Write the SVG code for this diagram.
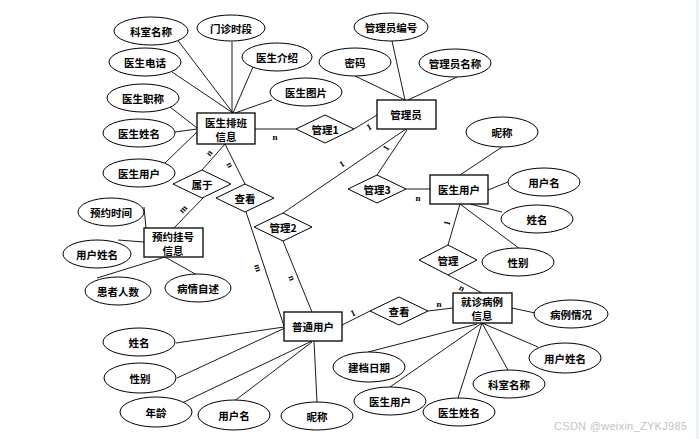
<svg xmlns="http://www.w3.org/2000/svg" width="699" height="439" viewBox="0 0 699 439">
<style>
.e{fill:#fff;stroke:#000;stroke-width:1}
.b{fill:#fff;stroke:#000;stroke-width:1.3}
.d{fill:#fff;stroke:#000;stroke-width:1}
.t{font-family:"Noto Sans CJK SC","Noto Sans",sans-serif;font-size:10.5px;font-weight:bold;text-anchor:middle;dominant-baseline:central;fill:#000}
.c line{stroke:#000;stroke-width:0.9}
.l{font-family:"Liberation Serif",serif;font-size:9px;font-weight:bold;text-anchor:middle;dominant-baseline:central;fill:#000}
.w{font-family:"Liberation Sans",sans-serif;font-size:11px;fill:#c4c4c4}
</style>
<rect width="699" height="439" fill="#fff"/>
<rect x="696" y="0" width="3" height="439" fill="#eef1f3"/>
<g class="c" id="connectors">
<line x1="176" y1="38" x2="233" y2="113"/>
<line x1="232" y1="42" x2="232" y2="113"/>
<line x1="253" y1="67" x2="233" y2="113"/>
<line x1="272" y1="100" x2="235" y2="113"/>
<line x1="172" y1="72" x2="233" y2="113"/>
<line x1="170" y1="107" x2="197" y2="128"/>
<line x1="175" y1="132" x2="197" y2="129"/>
<line x1="165" y1="163" x2="199" y2="130"/>
<line x1="255" y1="129" x2="296" y2="129"/>
<line x1="354" y1="129" x2="377" y2="115"/>
<line x1="225" y1="144" x2="202" y2="170"/>
<line x1="225" y1="144" x2="245" y2="184"/>
<line x1="203" y1="198" x2="174" y2="228"/>
<line x1="144" y1="207" x2="146" y2="228"/>
<line x1="118" y1="240" x2="144" y2="242"/>
<line x1="97" y1="278" x2="165" y2="257"/>
<line x1="165" y1="257" x2="197" y2="275"/>
<line x1="392" y1="41" x2="405" y2="100"/>
<line x1="355" y1="76" x2="405" y2="100"/>
<line x1="457" y1="77" x2="408" y2="100"/>
<line x1="406" y1="129" x2="283" y2="213"/>
<line x1="407" y1="130" x2="377" y2="175"/>
<line x1="406" y1="189" x2="430" y2="189"/>
<line x1="460" y1="175" x2="502" y2="147"/>
<line x1="488" y1="190" x2="508" y2="182"/>
<line x1="470" y1="204" x2="502" y2="212"/>
<line x1="460" y1="204" x2="520" y2="249"/>
<line x1="460" y1="204" x2="448" y2="245"/>
<line x1="448" y1="275" x2="482" y2="293"/>
<line x1="246" y1="212" x2="284" y2="326"/>
<line x1="283" y1="241" x2="312" y2="312"/>
<line x1="342" y1="325" x2="370" y2="311"/>
<line x1="428" y1="311" x2="453" y2="308"/>
<line x1="512" y1="308" x2="535" y2="313"/>
<line x1="482" y1="323" x2="538" y2="347"/>
<line x1="482" y1="323" x2="508" y2="370"/>
<line x1="482" y1="323" x2="458" y2="398"/>
<line x1="482" y1="323" x2="390" y2="387"/>
<line x1="477" y1="324" x2="368" y2="352"/>
<line x1="176" y1="343" x2="284" y2="327"/>
<line x1="177" y1="378" x2="285" y2="328"/>
<line x1="182" y1="403" x2="312" y2="341"/>
<line x1="233" y1="402" x2="312" y2="342"/>
<line x1="317" y1="402" x2="314" y2="341"/>
<text class="l" x="275" y="137">n</text>
<text class="l" x="369" y="127" transform="rotate(-30 369 127)">1</text>
<text class="l" x="209" y="153" transform="rotate(-50 209 153)">n</text>
<text class="l" x="230" y="165" transform="rotate(63 230 165)">n</text>
<text class="l" x="183" y="209" transform="rotate(-45 183 209)">m</text>
<text class="l" x="342" y="164" transform="rotate(-34 342 164)">1</text>
<text class="l" x="386" y="148" transform="rotate(-56 386 148)">1</text>
<text class="l" x="418" y="198">n</text>
<text class="l" x="447" y="223" transform="rotate(-74 447 223)">1</text>
<text class="l" x="462" y="288" transform="rotate(28 462 288)">n</text>
<text class="l" x="258" y="268" transform="rotate(72 258 268)">m</text>
<text class="l" x="292" y="278" transform="rotate(68 292 278)">n</text>
<text class="l" x="353" y="313" transform="rotate(-27 353 313)">1</text>
<text class="l" x="439" y="304">n</text>
</g>
<g id="doctor_schedule"><rect class="b" x="197" y="113" width="58" height="31"/><text class="t" x="226" y="122">医生排班</text><text class="t" x="226" y="136">信息</text></g>
<g id="admin"><rect class="b" x="377" y="100" width="59" height="29"/><text class="t" x="406" y="114">管理员</text></g>
<g id="doctor_user"><rect class="b" x="430" y="175" width="58" height="29"/><text class="t" x="459" y="189">医生用户</text></g>
<g id="appointment"><rect class="b" x="144" y="228" width="59" height="29"/><text class="t" x="173" y="236">预约挂号</text><text class="t" x="173" y="250">信息</text></g>
<g id="case"><rect class="b" x="453" y="293" width="59" height="30"/><text class="t" x="482" y="301">就诊病例</text><text class="t" x="482" y="315">信息</text></g>
<g id="user"><rect class="b" x="284" y="312" width="58" height="29"/><text class="t" x="313" y="326">普通用户</text></g>
<g id="r_manage1"><polygon class="d" points="296,129 325,115 354,129 325,143"/><text class="t" x="325" y="129">管理1</text></g>
<g id="r_belong"><polygon class="d" points="173,184 202,170 231,184 202,198"/><text class="t" x="202" y="184">属于</text></g>
<g id="r_view1"><polygon class="d" points="216,198 245,184 274,198 245,212"/><text class="t" x="245" y="198">查看</text></g>
<g id="r_manage2"><polygon class="d" points="254,227 283,213 312,227 283,241"/><text class="t" x="283" y="227">管理2</text></g>
<g id="r_manage3"><polygon class="d" points="348,189 377,175 406,189 377,203"/><text class="t" x="377" y="189">管理3</text></g>
<g id="r_manage"><polygon class="d" points="419,260 448,245 477,260 448,275"/><text class="t" x="448" y="260">管理</text></g>
<g id="r_view2"><polygon class="d" points="370,311 399,297 428,311 399,325"/><text class="t" x="399" y="311">查看</text></g>
<g id="a1"><ellipse class="e" cx="151" cy="31" rx="37" ry="14"/><text class="t" x="151" y="31">科室名称</text></g>
<g id="a2"><ellipse class="e" cx="231" cy="28" rx="34" ry="13"/><text class="t" x="231" y="28">门诊时段</text></g>
<g id="a3"><ellipse class="e" cx="145" cy="62" rx="36" ry="14"/><text class="t" x="145" y="62">医生电话</text></g>
<g id="a4"><ellipse class="e" cx="277" cy="57" rx="35" ry="14"/><text class="t" x="277" y="57">医生介绍</text></g>
<g id="a5"><ellipse class="e" cx="143" cy="98" rx="36" ry="14"/><text class="t" x="143" y="98">医生职称</text></g>
<g id="a6"><ellipse class="e" cx="306" cy="92" rx="36" ry="14"/><text class="t" x="306" y="92">医生图片</text></g>
<g id="a7"><ellipse class="e" cx="139" cy="133" rx="36" ry="14"/><text class="t" x="139" y="133">医生姓名</text></g>
<g id="a8"><ellipse class="e" cx="139" cy="173" rx="36" ry="14"/><text class="t" x="139" y="173">医生用户</text></g>
<g id="a9"><ellipse class="e" cx="391" cy="27" rx="37" ry="14"/><text class="t" x="391" y="27">管理员编号</text></g>
<g id="a10"><ellipse class="e" cx="355" cy="62" rx="36" ry="14"/><text class="t" x="355" y="62">密码</text></g>
<g id="a11"><ellipse class="e" cx="455" cy="63" rx="36" ry="14"/><text class="t" x="455" y="63">管理员名称</text></g>
<g id="a12"><ellipse class="e" cx="502" cy="132" rx="36" ry="15"/><text class="t" x="502" y="132">昵称</text></g>
<g id="a13"><ellipse class="e" cx="544" cy="182" rx="36" ry="14"/><text class="t" x="544" y="182">用户名</text></g>
<g id="a14"><ellipse class="e" cx="537" cy="219" rx="36" ry="14"/><text class="t" x="537" y="219">姓名</text></g>
<g id="a15"><ellipse class="e" cx="518" cy="262" rx="36" ry="14"/><text class="t" x="518" y="262">性别</text></g>
<g id="a16"><ellipse class="e" cx="111" cy="212" rx="33" ry="14"/><text class="t" x="111" y="212">预约时间</text></g>
<g id="a17"><ellipse class="e" cx="97" cy="254" rx="34" ry="14"/><text class="t" x="97" y="254">用户姓名</text></g>
<g id="a18"><ellipse class="e" cx="118" cy="291" rx="33" ry="14"/><text class="t" x="118" y="291">患者人数</text></g>
<g id="a19"><ellipse class="e" cx="198" cy="288" rx="33" ry="14"/><text class="t" x="198" y="288">病情自述</text></g>
<g id="a20"><ellipse class="e" cx="571" cy="314" rx="37" ry="14"/><text class="t" x="571" y="314">病例情况</text></g>
<g id="a21"><ellipse class="e" cx="565" cy="358" rx="36" ry="15"/><text class="t" x="565" y="358">用户姓名</text></g>
<g id="a22"><ellipse class="e" cx="509" cy="384" rx="36" ry="14"/><text class="t" x="509" y="384">科室名称</text></g>
<g id="a23"><ellipse class="e" cx="459" cy="412" rx="36" ry="14"/><text class="t" x="459" y="412">医生姓名</text></g>
<g id="a24"><ellipse class="e" cx="390" cy="401" rx="36" ry="14"/><text class="t" x="390" y="401">医生用户</text></g>
<g id="a25"><ellipse class="e" cx="369" cy="367" rx="36" ry="15"/><text class="t" x="369" y="367">建档日期</text></g>
<g id="a26"><ellipse class="e" cx="139" cy="342" rx="36" ry="14"/><text class="t" x="139" y="342">姓名</text></g>
<g id="a27"><ellipse class="e" cx="140" cy="378" rx="36" ry="15"/><text class="t" x="140" y="378">性别</text></g>
<g id="a28"><ellipse class="e" cx="156" cy="412" rx="36" ry="15"/><text class="t" x="156" y="412">年龄</text></g>
<g id="a29"><ellipse class="e" cx="234" cy="415" rx="36" ry="15"/><text class="t" x="234" y="415">用户名</text></g>
<g id="a30"><ellipse class="e" cx="317" cy="416" rx="36" ry="14"/><text class="t" x="317" y="416">昵称</text></g>
<text class="w" x="554" y="430" textLength="133">CSDN @weixin_ZYKJ985</text>
</svg>
